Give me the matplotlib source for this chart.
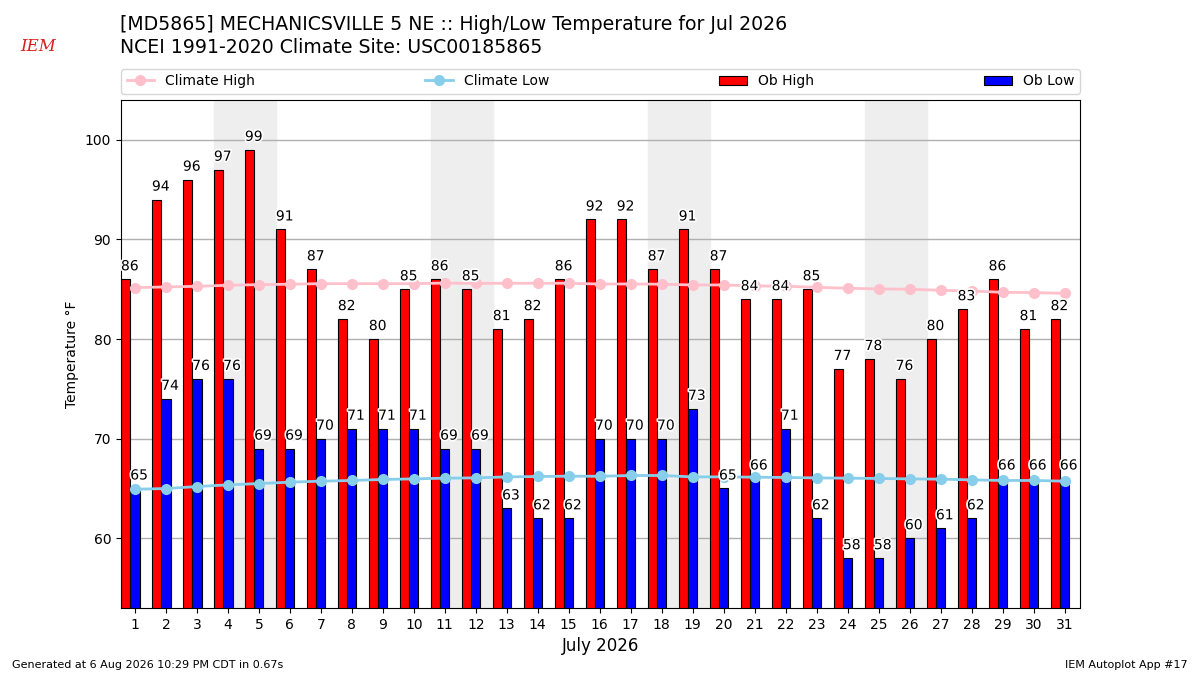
import numpy as np
import matplotlib
matplotlib.use("Agg")
import matplotlib.pyplot as plt
import matplotlib.patheffects as PathEffects

# July 2026 observations and 1991-2020 climatology
days = np.arange(1, 32)
ob_high = [86, 94, 96, 97, 99, 91, 87, 82, 80, 85, 86, 85, 81, 82, 86, 92,
           92, 87, 91, 87, 84, 84, 85, 77, 78, 76, 80, 83, 86, 81, 82]
ob_low = [65, 74, 76, 76, 69, 69, 70, 71, 71, 71, 69, 69, 63, 62, 62, 70,
          70, 70, 73, 65, 66, 71, 62, 58, 58, 60, 61, 62, 66, 66, 66]
clim_high = [85.16, 85.23, 85.29, 85.40, 85.46, 85.50, 85.56, 85.56, 85.56,
             85.56, 85.62, 85.58, 85.60, 85.60, 85.60, 85.52, 85.53, 85.50,
             85.43, 85.43, 85.33, 85.30, 85.19, 85.10, 85.03, 85.00, 84.89,
             84.82, 84.69, 84.66, 84.59]
clim_low = [64.92, 64.99, 65.19, 65.36, 65.49, 65.63, 65.73, 65.80, 65.90,
            65.96, 66.03, 66.06, 66.16, 66.20, 66.23, 66.22, 66.30, 66.30,
            66.16, 66.16, 66.13, 66.10, 66.06, 66.03, 66.00, 65.96, 65.93,
            65.86, 65.80, 65.80, 65.73]
weekends = [4, 11, 18, 25]  # saturdays

fig = plt.figure(figsize=(12, 6.75), dpi=100)
ax = fig.add_axes([0.1008, 0.0993, 0.7992, 0.7526])

for d in weekends:
    ax.axvspan(d - 0.45, d + 1.55, color="#EEEEEE", zorder=0)

ax.plot(days, clim_high, color="pink", marker="o", lw=2, ms=7,
        label="Climate High", zorder=3)
ax.plot(days, clim_low, color="skyblue", marker="o", lw=2, ms=7,
        label="Climate Low", zorder=3)

w = 0.3
ax.bar(days - 0.3, ob_high, width=w, color="r", edgecolor="k", linewidth=0.8,
       label="Ob High", zorder=2)
ax.bar(days, ob_low, width=w, color="b", edgecolor="k", linewidth=0.8,
       label="Ob Low", zorder=2)

pe = [PathEffects.withStroke(linewidth=2.5, foreground="w")]
for d, hi, lo in zip(days, ob_high, ob_low):
    ax.text(d - 0.45, hi + 0.6, str(hi), ha="left", va="bottom", fontsize=10,
            zorder=5, path_effects=pe)
    ax.text(d - 0.15, lo + 0.6, str(lo), ha="left", va="bottom", fontsize=10,
            zorder=5, path_effects=pe)

ax.set_xlim(0.55, 31.5)
ax.set_ylim(53, 104)
ax.set_xticks(days)
ax.set_yticks([60, 70, 80, 90, 100])
ax.grid(axis="y", color="#b0b0b0", lw=1)
ax.set_axisbelow(True)
ax.set_ylabel("Temperature °F")
ax.set_xlabel("July 2026", fontsize=12)

ax.legend(bbox_to_anchor=(0, 1.012, 1, 0.06), loc="lower left", ncol=4,
          mode="expand", borderaxespad=0, fontsize=10)

fig.text(0.1, 0.978, "[MD5865] MECHANICSVILLE 5 NE :: High/Low Temperature for Jul 2026\n"
         "NCEI 1991-2020 Climate Site: USC00185865", fontsize=13.6, va="top",
         ha="left", linespacing=1.3)
fig.text(0.017, 0.925, "IEM", color="#d62020", fontsize=12, style="italic",
         family="DejaVu Serif")
fig.text(0.01, 0.01, "Generated at 6 Aug 2026 10:29 PM CDT in 0.67s", fontsize=8)
fig.text(0.99, 0.01, "IEM Autoplot App #17", fontsize=8, ha="right")

fig.savefig("out.png", dpi=100)
